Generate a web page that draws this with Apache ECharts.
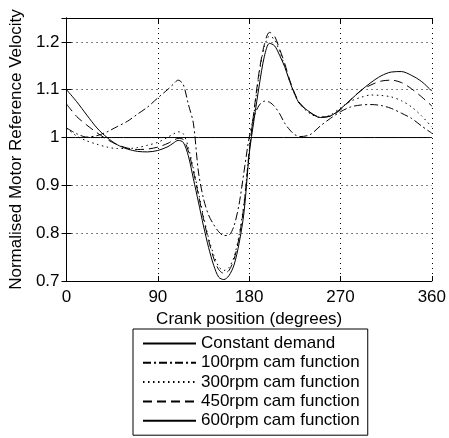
<!DOCTYPE html>
<html>
<head>
<meta charset="utf-8">
<script src="https://cdn.jsdelivr.net/npm/echarts@6/dist/echarts.min.js"></script>
<style>
  html, body { margin: 0; padding: 0; background: #fff; }
  #chart { width: 449px; height: 438px; }
</style>
</head>
<body>
<div id="chart"></div>
<script>
// crank angle (degrees) shared by all cam curves
const angles = [0, 10, 20, 30, 40, 50, 60, 70, 80, 90, 100, 105, 110, 115, 120, 125, 130, 135, 140, 145,
  150, 155, 160, 165, 170, 175, 180, 185, 190, 195, 200, 205, 210, 215, 220, 225, 230, 240, 250, 260,
  270, 280, 290, 300, 310, 320, 330, 340, 350, 360];

const rpm100 = [1.020, 1.008, 1.001, 1.004, 1.012, 1.023, 1.034, 1.049, 1.064, 1.083, 1.101, 1.111, 1.120, 1.111, 1.070, 1.030, 0.928, 0.872, 0.838, 0.818,
  0.803, 0.795, 0.796, 0.815, 0.860, 0.930, 1.000, 1.045, 1.068, 1.076, 1.074, 1.065, 1.050, 1.030, 1.016, 1.006, 1.002, 1.006, 1.024, 1.040,
  1.054, 1.064, 1.068, 1.069, 1.067, 1.061, 1.051, 1.040, 1.024, 1.009];

const rpm300 = [1.020, 1.003, 0.993, 0.986, 0.980, 0.977, 0.977, 0.979, 0.984, 0.990, 1.001, 1.007, 1.012, 1.008, 0.980, 0.935, 0.885, 0.835, 0.790, 0.755,
  0.730, 0.722, 0.728, 0.750, 0.795, 0.865, 0.970, 1.055, 1.135, 1.190, 1.212, 1.205, 1.180, 1.150, 1.118, 1.090, 1.070, 1.050, 1.042, 1.047,
  1.062, 1.076, 1.084, 1.089, 1.088, 1.085, 1.077, 1.064, 1.045, 1.022];

const rpm450 = [1.070, 1.044, 1.026, 1.010, 0.996, 0.985, 0.978, 0.975, 0.976, 0.980, 0.988, 0.994, 0.998, 0.996, 0.972, 0.930, 0.880, 0.830, 0.785, 0.748,
  0.724, 0.716, 0.722, 0.745, 0.790, 0.860, 0.970, 1.060, 1.140, 1.195, 1.220, 1.212, 1.185, 1.155, 1.120, 1.092, 1.072, 1.052, 1.043, 1.045,
  1.058, 1.079, 1.098, 1.110, 1.118, 1.120, 1.115, 1.102, 1.085, 1.066];

const rpm600 = [1.100, 1.075, 1.047, 1.020, 1.000, 0.985, 0.976, 0.971, 0.970, 0.973, 0.981, 0.988, 0.994, 0.990, 0.962, 0.914, 0.865, 0.815, 0.770, 0.733,
  0.708, 0.703, 0.711, 0.733, 0.778, 0.845, 0.965, 1.040, 1.110, 1.170, 1.197, 1.192, 1.172, 1.148, 1.117, 1.090, 1.070, 1.053, 1.042, 1.045,
  1.060, 1.079, 1.098, 1.115, 1.129, 1.137, 1.138, 1.130, 1.117, 1.097];

const constAngles = [0, 360];
const constValues = [1, 1];

const xTicks = [0, 90, 180, 270, 360];
const yTicks = [0.7, 0.8, 0.9, 1, 1.1, 1.2];

const seriesNames = ['Constant demand', '100rpm cam function', '300rpm cam function', '450rpm cam function', '600rpm cam function'];

const font = 'Liberation Sans, Arial, Helvetica, sans-serif';
const zip = (xs, ys) => xs.map((x, i) => [x, ys[i]]);

let myChart = echarts.init(document.getElementById('chart'), null, { renderer: 'canvas' });

function lineSeries(name, data, type) {
  return {
    name: name,
    type: 'line',
    data: data,
    symbol: 'none',
    smooth: 0.3,
    color: '#000',
    lineStyle: { color: '#000', width: 1, type: type },
    xAxisIndex: 0,
    yAxisIndex: 0,
    z: 3,
  };
}

const axisLine = { show: true, lineStyle: { color: '#000', width: 1 } };
const tick = { show: true, inside: true, length: 5, lineStyle: { color: '#000' } };

let option = {
  animation: false,
  backgroundColor: '#fff',
  textStyle: { fontFamily: font },
  grid: { left: 62, right: 13, top: 18, bottom: 157 },
  legend: {
    data: seriesNames,
    orient: 'vertical',
    left: 133,
    top: 329,
    itemWidth: 53,
    itemHeight: 14,
    itemGap: 0.3,
    padding: [5, 8, 5, 9],
    borderColor: '#000',
    borderWidth: 1,
    backgroundColor: '#fff',
    selectedMode: false,
    itemStyle: { opacity: 0 }, // hide the marker, keep only the line sample
    textStyle: { fontSize: 17, color: '#000', fontFamily: font, lineHeight: 19 },
  },
  xAxis: [
    {
      type: 'value',
      min: xTicks[0],
      max: xTicks[xTicks.length - 1],
      interval: 90,
      position: 'bottom',
      name: 'Crank position (degrees)',
      nameLocation: 'middle',
      nameGap: 28,
      nameTextStyle: { fontSize: 17, color: '#000', fontFamily: font },
      axisLine: axisLine,
      axisTick: tick,
      axisLabel: { fontSize: 17, color: '#000', margin: 8, fontFamily: font },
      splitLine: { show: true, lineStyle: { color: '#000', type: [1, 4], width: 1 } },
    },
    {
      type: 'value',
      min: 0,
      max: 360,
      interval: 90,
      position: 'top',
      axisLine: axisLine,
      axisTick: tick,
      axisLabel: { show: false },
      splitLine: { show: false },
    },
  ],
  yAxis: [
    {
      type: 'value',
      min: yTicks[0],
      max: 1.25,
      interval: 0.1,
      position: 'left',
      name: 'Normalised Motor Reference Velocity',
      nameLocation: 'middle',
      nameGap: 36,
      nameTextStyle: { fontSize: 17, color: '#000', fontFamily: font },
      axisLine: axisLine,
      axisTick: tick,
      axisLabel: {
        fontSize: 17,
        color: '#000',
        margin: 7,
        fontFamily: font,
        showMaxLabel: false,
        formatter: (v) => String(Math.round(v * 10) / 10),
      },
      splitLine: { show: true, lineStyle: { color: '#000', type: [1, 4], width: 1 } },
    },
    {
      type: 'value',
      min: 0.7,
      max: 1.25,
      interval: 0.1,
      position: 'right',
      axisLine: axisLine,
      axisTick: tick,
      axisLabel: { show: false },
      splitLine: { show: false },
    },
  ],
  series: [
    lineSeries(seriesNames[0], zip(constAngles, constValues), 'solid'),
    lineSeries(seriesNames[1], zip(angles, rpm100), [8, 3, 2, 3]),
    lineSeries(seriesNames[2], zip(angles, rpm300), [1.5, 3.5]),
    lineSeries(seriesNames[3], zip(angles, rpm450), [9, 5]),
    lineSeries(seriesNames[4], zip(angles, rpm600), 'solid'),
  ],
};

myChart.setOption(option, true);
</script>
</body>
</html>
